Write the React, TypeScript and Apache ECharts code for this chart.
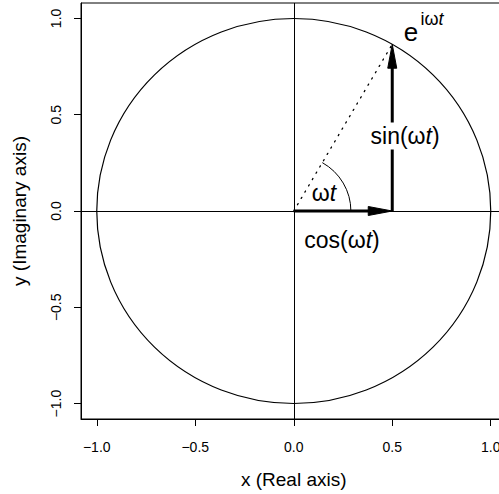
import React, { useEffect, useRef } from "react";
import * as echarts from "echarts";

// ---- data ----
const xTicks = [-1, -0.5, 0, 0.5, 1];
const yTicks = [-1, -0.5, 0, 0.5, 1];
const axisMin = -1.08;
const axisMax = 1.08;
// unit circle: centre x, centre y, radius
const unitCircle = [[0, 0, 1]];
// phasor tip (cos 60°, sin 60°)
const tipX = 0.5;
const tipY = 0.866;
// arrows: x0, y0, x1, y1
const cosArrow = [[0, 0, tipX, 0]];
const sinArrow = [[tipX, 0, tipX, tipY]];
const phasorLine = [[0, 0, tipX, tipY]];
// angle arc: centre x, centre y, radius, start deg, end deg
const angleArc = [[0, 0, 0.29, 0, 60]];
// annotations
const labelTexts = ["e", "{n|iω}{it|t}", "sin(ω{it|t})", "ω{it|t}", "cos(ω{it|t})"];
const labelX = [0.595, 0.702, 0.565, 0.153, 0.245];
const labelY = [0.929, 0.996, 0.39, 0.092, -0.15];
const labelSizes = [26, 18, 23, 23, 23];
const labelBg = [false, false, true, false, false];

const FONT = '"Liberation Sans", Arial, Helvetica, sans-serif';

const fmt = (v: number) => v.toFixed(1).replace("-", "\u2212");

export default function App() {
  const ref = useRef<HTMLDivElement>(null);
  useEffect(() => {
    if (!ref.current) return;
    const chart = echarts.init(ref.current, null, { renderer: "svg" });

    const arrowRender = (params: any, api: any) => {
      const p0 = api.coord([api.value(0), api.value(1)]);
      const p1 = api.coord([api.value(2), api.value(3)]);
      const dx = p1[0] - p0[0];
      const dy = p1[1] - p0[1];
      const len = Math.hypot(dx, dy);
      const ux = dx / len;
      const uy = dy / len;
      const headLen = 24;
      const headW = 4.5;
      const bx = p1[0] - ux * headLen;
      const by = p1[1] - uy * headLen;
      const nx = -uy;
      const ny = ux;
      return {
        type: "group",
        children: [
          {
            type: "line",
            shape: { x1: p0[0], y1: p0[1], x2: bx + ux * 4, y2: by + uy * 4 },
            style: { stroke: "#000", lineWidth: 3, lineCap: "butt" },
          },
          {
            type: "polygon",
            shape: {
              points: [
                [p1[0], p1[1]],
                [bx + nx * headW, by + ny * headW],
                [bx - nx * headW, by - ny * headW],
              ],
            },
            style: { fill: "#000", stroke: "#000", lineWidth: 1 },
          },
        ],
      };
    };

    const option: any = {
      animation: false,
      backgroundColor: "#fff",
      grid: {
        left: 81,
        top: 3,
        width: 425.5,
        height: 416.5,
        show: true,
        borderColor: "#000",
        borderWidth: 1,
        backgroundColor: "transparent",
      },
      xAxis: {
        type: "value",
        min: axisMin,
        max: axisMax,
        position: "bottom",
        splitLine: { show: false },
        axisLine: { show: true, onZero: false, lineStyle: { color: "#000", width: 1 } },
        axisTick: { show: true, customValues: xTicks, length: 7, lineStyle: { color: "#000", width: 1 } },
        axisLabel: {
          customValues: xTicks,
          formatter: fmt,
          color: "#000",
          fontSize: 14,
          fontFamily: FONT,
          margin: 21,
        },
        name: "x (Real axis)",
        nameLocation: "middle",
        nameGap: 51,
        nameTextStyle: { color: "#000", fontSize: 19, fontFamily: FONT },
      },
      yAxis: {
        type: "value",
        min: axisMin,
        max: axisMax,
        position: "left",
        splitLine: { show: false },
        axisLine: { show: true, onZero: false, lineStyle: { color: "#000", width: 1 } },
        axisTick: { show: true, customValues: yTicks, length: 7, lineStyle: { color: "#000", width: 1 } },
        axisLabel: {
          customValues: yTicks,
          formatter: fmt,
          color: "#000",
          fontSize: 14,
          fontFamily: FONT,
          rotate: 90,
          margin: 18,
        },
        name: "y (Imaginary axis)",
        nameLocation: "middle",
        nameGap: 52,
        nameTextStyle: { color: "#000", fontSize: 19, fontFamily: FONT },
      },
      series: [
        {
          type: "custom",
          name: "circle",
          data: unitCircle,
          renderItem: (params: any, api: any) => {
            const c = api.coord([api.value(0), api.value(1)]);
            const s = api.size([api.value(2), api.value(2)]);
            const rx = s[0];
            const ry = s[1];
            const d = `M${c[0] - rx} ${c[1]} A${rx} ${ry} 0 1 0 ${c[0] + rx} ${c[1]} A${rx} ${ry} 0 1 0 ${c[0] - rx} ${c[1]} Z`;
            return {
              type: "path",
              shape: { pathData: d },
              style: { fill: "none", stroke: "#000", lineWidth: 1.2 },
            };
          },
          markLine: {
            silent: true,
            symbol: ["none", "none"],
            label: { show: false },
            lineStyle: { color: "#000", type: "solid", width: 1 },
            data: [{ yAxis: 0 }, { xAxis: 0 }],
          },
          z: 2,
        },
        {
          type: "custom",
          name: "phasor",
          data: phasorLine,
          renderItem: (params: any, api: any) => {
            const p0 = api.coord([api.value(0), api.value(1)]);
            const p1 = api.coord([api.value(2), api.value(3)]);
            return {
              type: "line",
              shape: { x1: p0[0], y1: p0[1], x2: p1[0], y2: p1[1] },
              style: { stroke: "#000", lineWidth: 1.3, lineDash: [1.3, 6], lineCap: "round" },
            };
          },
          z: 3,
        },
        {
          type: "custom",
          name: "arc",
          data: angleArc,
          renderItem: (params: any, api: any) => {
            const cx = api.value(0);
            const cy = api.value(1);
            const r = api.value(2);
            const a0 = (api.value(3) * Math.PI) / 180;
            const a1 = (api.value(4) * Math.PI) / 180;
            const s = api.coord([cx + r * Math.cos(a0), cy + r * Math.sin(a0)]);
            const e = api.coord([cx + r * Math.cos(a1), cy + r * Math.sin(a1)]);
            const sz = api.size([r, r]);
            const d = `M${s[0]} ${s[1]} A${sz[0]} ${sz[1]} 0 0 0 ${e[0]} ${e[1]}`;
            return {
              type: "path",
              shape: { pathData: d },
              style: { fill: "none", stroke: "#000", lineWidth: 1 },
            };
          },
          z: 3,
        },
        { type: "custom", name: "cos", data: cosArrow, renderItem: arrowRender, z: 4 },
        { type: "custom", name: "sin", data: sinArrow, renderItem: arrowRender, z: 4 },
        {
          type: "custom",
          name: "labels",
          data: labelX.map((x, i) => [x, labelY[i], i]),
          renderItem: (params: any, api: any) => {
            const i = api.value(2);
            const p = api.coord([api.value(0), api.value(1)]);
            const size = labelSizes[i];
            const style: any = {
              text: labelTexts[i],
              fill: "#000",
              fontSize: size,
              fontFamily: FONT,
              align: "center",
              verticalAlign: "middle",
              rich: {
                n: { fill: "#000", fontSize: size, fontFamily: FONT },
                it: { fill: "#000", fontSize: size, fontFamily: FONT, fontStyle: "italic" },
              },
            };
            if (labelBg[i]) {
              style.backgroundColor = "#fff";
              style.padding = [2, 1];
            }
            return { type: "text", x: p[0], y: p[1], style };
          },
          z: 5,
        },
      ],
    };
    chart.setOption(option);
    return () => chart.dispose();
  }, []);

  return (
    <div
      style={{
        position: "fixed",
        left: 0,
        top: 0,
        width: 499,
        height: 494,
        overflow: "hidden",
        background: "#fff",
      }}
    >
      <div ref={ref} style={{ width: 520, height: 494 }} />
    </div>
  );
}
